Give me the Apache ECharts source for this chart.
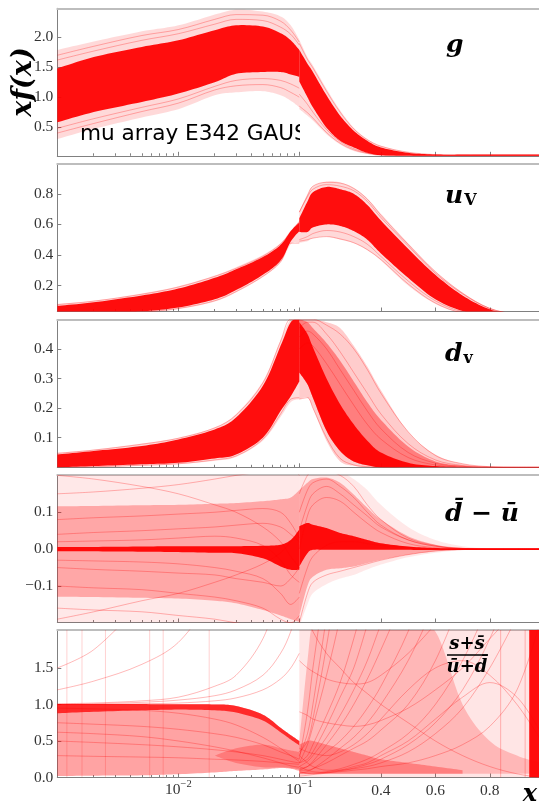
<!DOCTYPE html>
<html><head><meta charset="utf-8">
<script src="https://cdn.jsdelivr.net/npm/echarts@6/dist/echarts.min.js"></script>
<style>html,body{margin:0;padding:0;background:#fff}#c{width:539px;height:803px}</style>
</head><body><div id="c"></div>
<script>
// ---------------- data ----------------
const xsL = [0.001, 0.002, 0.005, 0.01, 0.02, 0.03, 0.05, 0.07, 0.085, 0.1];
const xsR = [0.1, 0.13, 0.15, 0.2, 0.25, 0.3, 0.35, 0.4, 0.5, 0.6, 0.7, 0.8, 0.9, 0.99];
const xMajorL = [0.01, 0.1];
const xMinorL = [0.002,0.003,0.004,0.005,0.006,0.007,0.008,0.009,0.02,0.03,0.04,0.05,0.06,0.07,0.08,0.09];
const xMajorR = [0.4, 0.6, 0.8];
const yMin = [0.02, 0.03, 0.0, -0.199, 0.0];
const yMax = [2.485, 0.995, 0.498, 0.201, 2.02];
const yTicks0 = [0.5, 1.0, 1.5, 2.0];
const yTicks1 = [0.2, 0.4, 0.6, 0.8];
const yTicks2 = [0.1, 0.2, 0.3, 0.4];
const yTicks3 = [-0.1, 0.0, 0.1];
const yTicks4 = [0.0, 0.5, 1.0, 1.5];

// g
const gOutHiL = [1.79, 1.93, 2.10, 2.20, 2.38, 2.46, 2.43, 2.35, 2.20, 1.96];
const gCorHiL = [1.48, 1.67, 1.84, 1.95, 2.12, 2.20, 2.18, 2.07, 1.95, 1.79];
const gCorLoL = [0.58, 0.75, 0.92, 1.06, 1.25, 1.39, 1.42, 1.42, 1.38, 1.34];
const gOutLoL = [0.30, 0.47, 0.66, 0.80, 1.03, 1.08, 1.10, 1.03, 0.94, 0.83];
const gOutHiR = [1.96, 1.67, 1.53, 1.14, 0.78, 0.49, 0.30, 0.19, 0.08, 0.045, 0.04, 0.04, 0.04, 0.04];
const gCorHiR = [1.79, 1.56, 1.42, 1.03, 0.69, 0.44, 0.27, 0.16, 0.07, 0.042, 0.04, 0.04, 0.04, 0.04];
const gCorLoR = [1.26, 1.00, 0.83, 0.49, 0.27, 0.16, 0.07, 0.03, 0.02, 0.01, 0.01, 0.01, 0.01, 0.01];
const gOutLoR = [0.80, 0.69, 0.61, 0.38, 0.21, 0.10, 0.05, 0.02, 0.01, 0.01, 0.01, 0.01, 0.01, 0.01];
const gLine1L = [1.70, 1.85, 2.03, 2.13, 2.30, 2.38, 2.37, 2.27, 2.12, 1.92];
const gLine2L = [1.62, 1.77, 1.95, 2.06, 2.22, 2.30, 2.28, 2.17, 2.05, 1.87];
const gLine3L = [0.40, 0.56, 0.76, 0.90, 1.12, 1.19, 1.21, 1.16, 1.08, 1.00];
const gLine4L = [0.48, 0.64, 0.83, 0.97, 1.18, 1.28, 1.31, 1.28, 1.22, 1.15];
const gLine1R = [1.90, 1.63, 1.49, 1.10, 0.75, 0.47, 0.29, 0.18, 0.08, 0.04, 0.03, 0.03, 0.03, 0.03];
const gLine2R = [0.85, 0.74, 0.65, 0.41, 0.23, 0.12, 0.06, 0.03, 0.02, 0.02, 0.02, 0.02, 0.02, 0.02];
const gLine3R = [1.05, 0.88, 0.75, 0.46, 0.26, 0.14, 0.07, 0.04, 0.02, 0.02, 0.02, 0.02, 0.02, 0.02];

// u_V
const uOutHiL = [0.080, 0.100, 0.148, 0.195, 0.265, 0.320, 0.400, 0.478, 0.560, 0.620];
const uCorHiL = [0.067, 0.090, 0.135, 0.180, 0.250, 0.306, 0.386, 0.466, 0.556, 0.613];
const uCorLoL = [0.000, 0.010, 0.030, 0.056, 0.110, 0.170, 0.270, 0.363, 0.488, 0.556];
const uOutLoL = [0.000, 0.005, 0.022, 0.045, 0.095, 0.155, 0.255, 0.350, 0.470, 0.480];
const uOutHiR = [0.68, 0.795, 0.85, 0.88, 0.875, 0.84, 0.77, 0.67, 0.477, 0.295, 0.154, 0.053, 0.012, 0.0];
const uCorHiR = [0.64, 0.75, 0.81, 0.845, 0.83, 0.80, 0.727, 0.625, 0.44, 0.27, 0.135, 0.044, 0.01, 0.0];
const uCorLoR = [0.55, 0.55, 0.58, 0.60, 0.59, 0.556, 0.50, 0.41, 0.25, 0.11, 0.033, 0.0, 0.0, 0.0];
const uOutLoR = [0.48, 0.49, 0.51, 0.52, 0.50, 0.477, 0.43, 0.363, 0.20, 0.08, 0.017, 0.0, 0.0, 0.0];
const uLine1L = [0.075, 0.098, 0.143, 0.19, 0.26, 0.312, 0.392, 0.472, 0.55, 0.62];
const uLine2L = [0.0, 0.008, 0.026, 0.05, 0.10, 0.16, 0.26, 0.355, 0.477, 0.477];
const uLine1R = [0.68, 0.79, 0.85, 0.875, 0.87, 0.835, 0.765, 0.66, 0.47, 0.29, 0.15, 0.05, 0.012, 0.0];
const uLine2R = [0.49, 0.50, 0.51, 0.52, 0.505, 0.48, 0.435, 0.37, 0.21, 0.085, 0.02, 0.003, 0.0, 0.0];
const uLine3R = [0.50, 0.52, 0.54, 0.56, 0.55, 0.52, 0.47, 0.39, 0.23, 0.10, 0.028, 0.005, 0.0, 0.0];
const uLine4R = [0.68, 0.78, 0.83, 0.86, 0.85, 0.82, 0.75, 0.645, 0.46, 0.28, 0.145, 0.05, 0.01, 0.0];

// d_v
const dOutHiL = [0.049, 0.060, 0.080, 0.100, 0.135, 0.180, 0.290, 0.430, 0.500, 0.500];
const dCorHiL = [0.043, 0.055, 0.072, 0.094, 0.128, 0.168, 0.275, 0.410, 0.490, 0.500];
const dCorLoL = [0.000, 0.004, 0.010, 0.015, 0.030, 0.043, 0.100, 0.190, 0.240, 0.290];
const dOutLoL = [0.000, 0.000, 0.005, 0.010, 0.022, 0.035, 0.090, 0.170, 0.220, 0.230];
const dOutHiR = [0.50, 0.50, 0.50, 0.49, 0.47, 0.41, 0.34, 0.26, 0.12, 0.043, 0.012, 0.002, 0.0, 0.0];
const dMidHiR = [0.50, 0.49, 0.47, 0.42, 0.36, 0.29, 0.22, 0.16, 0.07, 0.02, 0.005, 0.0, 0.0, 0.0];
const dCorHiR = [0.49, 0.45, 0.405, 0.30, 0.213, 0.145, 0.09, 0.05, 0.015, 0.004, 0.001, 0.0, 0.0, 0.0];
const dCorLoR = [0.32, 0.28, 0.235, 0.123, 0.055, 0.02, 0.007, 0.0, 0.0, 0.0, 0.0, 0.0, 0.0, 0.0];
const dOutLoR = [0.23, 0.235, 0.20, 0.089, 0.02, 0.005, 0.0, 0.0, 0.0, 0.0, 0.0, 0.0, 0.0, 0.0];
const dLine1L = [0.047, 0.058, 0.078, 0.098, 0.133, 0.176, 0.285, 0.425, 0.50, 0.50];
const dLine2L = [0.0, 0.002, 0.007, 0.012, 0.025, 0.038, 0.095, 0.18, 0.23, 0.235];
const dLine1R = [0.50, 0.50, 0.50, 0.48, 0.45, 0.40, 0.33, 0.25, 0.12, 0.04, 0.012, 0.002, 0.0, 0.0];
const dLine2R = [0.47, 0.49, 0.49, 0.45, 0.39, 0.32, 0.25, 0.18, 0.08, 0.025, 0.006, 0.001, 0.0, 0.0];
const dLine3R = [0.44, 0.46, 0.45, 0.40, 0.33, 0.26, 0.19, 0.13, 0.05, 0.014, 0.003, 0.0, 0.0, 0.0];
const dLine4R = [0.40, 0.42, 0.41, 0.35, 0.28, 0.21, 0.145, 0.095, 0.033, 0.008, 0.001, 0.0, 0.0, 0.0];
const dLine5R = [0.23, 0.235, 0.20, 0.10, 0.03, 0.008, 0.002, 0.0, 0.0, 0.0, 0.0, 0.0, 0.0, 0.0];

// dbar - ubar
const duOutHiL = [0.21, 0.21, 0.21, 0.21, 0.21, 0.21, 0.21, 0.21, 0.21, 0.21];
const duMidHiL = [0.116, 0.117, 0.119, 0.12, 0.123, 0.125, 0.13, 0.135, 0.14, 0.16];
const duCorHiL = [0.006, 0.006, 0.007, 0.008, 0.008, 0.008, 0.009, 0.012, 0.025, 0.053];
const duCorLoL = [-0.006, -0.006, -0.007, -0.008, -0.010, -0.011, -0.025, -0.047, -0.056, -0.056];
const duMidLoL = [-0.129, -0.13, -0.132, -0.134, -0.14, -0.147, -0.165, -0.18, -0.19, -0.197];
const duOutLoL = [-0.21, -0.21, -0.21, -0.21, -0.21, -0.21, -0.21, -0.21, -0.21, -0.21];
const duOutHiR = [0.21, 0.21, 0.21, 0.21, 0.21, 0.19, 0.16, 0.12, 0.06, 0.025, 0.008, 0.002, 0.001, 0.001];
const duMidHiR = [0.16, 0.18, 0.19, 0.194, 0.18, 0.148, 0.112, 0.08, 0.035, 0.012, 0.003, 0.001, 0.001, 0.001];
const duCorHiR = [0.062, 0.071, 0.066, 0.057, 0.044, 0.035, 0.025, 0.016, 0.007, 0.003, 0.0025, 0.0025, 0.0025, 0.0025];
const duCorLoR = [-0.047, -0.011, -0.002, -0.002, -0.002, -0.002, -0.002, -0.002, -0.002, -0.0025, -0.0025, -0.0025, -0.0025, -0.0025];
const duMidLoR = [-0.18, -0.10, -0.075, -0.056, -0.052, -0.047, -0.038, -0.029, -0.015, -0.006, -0.002, -0.001, -0.001, -0.001];
const duOutLoR = [-0.21, -0.15, -0.12, -0.095, -0.08, -0.07, -0.055, -0.042, -0.022, -0.01, -0.003, -0.002, -0.001, -0.001];
const duLine1L = [0.15, 0.155, 0.165, 0.175, 0.19, 0.20, 0.21, 0.22, 0.22, 0.20];
const duLine2L = [0.08, 0.085, 0.09, 0.095, 0.10, 0.105, 0.11, 0.10, 0.07, 0.03];
const duLine3L = [0.04, 0.045, 0.05, 0.055, 0.06, 0.065, 0.07, 0.06, 0.04, 0.02];
const duLine4L = [-0.05, -0.055, -0.06, -0.065, -0.07, -0.08, -0.09, -0.10, -0.08, -0.05];
const duLine5L = [-0.10, -0.105, -0.11, -0.12, -0.13, -0.14, -0.16, -0.19, -0.20, -0.18];
const duLine6L = [-0.16, -0.165, -0.17, -0.18, -0.19, -0.20, -0.21, -0.22, -0.22, -0.20];
const duLine7L = [0.20, 0.19, 0.17, 0.15, 0.12, 0.10, 0.06, 0.02, -0.02, -0.05];
const duLine8L = [-0.19, -0.17, -0.14, -0.12, -0.09, -0.07, -0.04, -0.01, 0.02, 0.05];
const duLine9L = [0.02, 0.022, 0.025, 0.03, 0.035, 0.03, 0.01, -0.03, -0.07, -0.09];
const duLine10L = [-0.03, -0.032, -0.035, -0.04, -0.05, -0.06, -0.08, -0.12, -0.15, -0.13];
const duLine1R = [0.15, 0.20, 0.21, 0.21, 0.20, 0.17, 0.12, 0.08, 0.03, 0.01, 0.0, 0.0, 0.0, 0.0];
const duLine2R = [0.05, 0.12, 0.15, 0.17, 0.15, 0.12, 0.09, 0.06, 0.025, 0.008, 0.002, 0.0, 0.0, 0.0];
const duLine3R = [-0.12, -0.05, -0.02, 0.01, 0.02, 0.02, 0.015, 0.01, 0.005, 0.001, 0.0, 0.0, 0.0, 0.0];
const duLine4R = [-0.20, -0.12, -0.09, -0.07, -0.06, -0.05, -0.04, -0.03, -0.015, -0.005, -0.001, 0.0, 0.0, 0.0];
const duLine5R = [0.0, 0.09, 0.12, 0.14, 0.13, 0.10, 0.07, 0.045, 0.015, 0.004, 0.001, 0.0, 0.0, 0.0];
const duLine6R = [0.10, 0.16, 0.18, 0.19, 0.17, 0.14, 0.10, 0.065, 0.025, 0.008, 0.002, 0.0, 0.0, 0.0];

// (s+sbar)/(ubar+dbar)
const rFanHiL = [1.005, 1.005, 1.005, 1.003, 1.0, 0.98, 0.86, 0.68, 0.58, 0.50];
const rFanLoL = [0.02, 0.025, 0.03, 0.045, 0.07, 0.09, 0.11, 0.13, 0.12, 0.09];
const rTopLoL = [0.88, 0.90, 0.92, 0.93, 0.92, 0.89, 0.78, 0.62, 0.52, 0.44];
const rFocHiL = [null, null, null, null, 0.30, 0.40, 0.45, 0.40, 0.37, 0.35];
const rFocLoL = [null, null, null, null, 0.30, 0.20, 0.14, 0.14, 0.13, 0.11];
const rAllHiR = [2.05, 2.05, 2.05, 2.05, 2.05, 2.05, 2.05, 2.05, 2.05, 2.05, 2.05, 2.05, 2.05, 2.05];
const rAllLoR = [0, 0, 0, 0, 0, 0, 0, 0, 0, 0, 0, 0, 0, 0];
const rRiseHiR = [0.5, 1.6, 2.1, 2.1, 2.1, 2.1, 2.1, 2.1, 2.1, 2.0, 1.0, 0.5, 0.3, 0.2];
const rRiseLoR = [0.05, 0.05, 0.05, 0.05, 0.05, 0.05, 0.05, 0.05, 0.05, 0.05, 0.05, 0.05, 0.05, 0.05];
const rBotHiR = [0.45, 0.5, 0.5, 0.45, 0.4, 0.35, 0.3, 0.25, 0.2, 0.15, 0.1];
const rBotLoR = [0.06, 0.05, 0.05, 0.05, 0.05, 0.05, 0.05, 0.05, 0.05, 0.05, 0.05];
const rLine1L = [1.5, 1.75, 2.4];
const rLine2L = [1.2, 1.32, 1.55, 1.85, 2.5];
const rLine3L = [1.01, 1.02, 1.05, 1.10, 1.25, 1.40, 1.90, 2.60];
const rLine4L = [1.0, 1.01, 1.03, 1.06, 1.12, 1.20, 1.40, 1.70, 2.00, 2.40];
const rLine5L = [0.95, 0.94, 0.92, 0.88, 0.80, 0.72, 0.55, 0.40, 0.30, 0.22];
const rLine6L = [0.75, 0.73, 0.70, 0.66, 0.60, 0.55, 0.45, 0.35, 0.30, 0.25];
const rLine7L = [0.50, 0.48, 0.45, 0.42, 0.38, 0.35, 0.30, 0.25, 0.22, 0.20];
const rLine8L = [0.30, 0.29, 0.28, 0.27, 0.25, 0.24, 0.22, 0.20, 0.19, 0.18];
const rLine9L = [0.62, 0.60, 0.56, 0.50, 0.42, 0.36, 0.27, 0.20, 0.16, 0.14];
const rLine10L = [1.0, 1.0, 1.01, 1.02, 1.05, 1.09, 1.20, 1.35, 1.50, 1.70];
const rLine1R = [0.25, 0.9, 1.5, 2.8];
const rLine2R = [0.2, 0.45, 0.7, 1.4, 2.2, 3.2];
const rLine3R = [0.2, 0.3, 0.45, 0.85, 1.3, 1.9, 2.6];
const rLine4R = [0.15, 0.22, 0.3, 0.55, 0.85, 1.2, 1.6, 2.1, 3.0];
const rLine5R = [0.12, 0.15, 0.2, 0.35, 0.5, 0.7, 0.95, 1.25, 2.0, 3.0];
const rLine6R = [0.1, 0.1, 0.12, 0.2, 0.3, 0.4, 0.5, 0.65, 1.0, 1.6, 2.5];
const rLine7R = [0.08, 0.06, 0.06, 0.08, 0.12, 0.18, 0.25, 0.35, 0.6, 1.0, 1.6, 2.4];
const rLine8R = [0.3, 0.2, 0.15, 0.1, 0.1, 0.12, 0.15, 0.2, 0.35, 0.6, 0.95, 1.5, 2.2];
const rLine9R = [2.6, 2.2, 2.0, 1.7, 1.5, 1.3, 1.15, 1.0, 0.75, 0.5, 0.3, 0.15, 0.05, 0.0];
const rLine10R = [0.4, 0.35, 0.33, 0.3, 0.35, 0.45, 0.6, 0.8, 1.2, 1.5, 1.6, 1.4, 1.0, 0.5];
const rLine11R = [0.05, 0.05, 0.05, 0.07, 0.1, 0.15, 0.2, 0.3, 0.5, 0.8, 1.1, 1.3, 1.1, 0.6];
const rLine12R = [0.15, 0.1, 0.08, 0.07, 0.08, 0.1, 0.12, 0.15, 0.2, 0.3, 0.45, 0.7, 1.2, 2.2];
const rLine13R = [0.3, 0.6, 1.0, 2.2];
const rLine14R = [0.35, 0.5, 0.8, 1.8, 3.0];
const rLine15R = [0.2, 0.25, 0.35, 0.7, 1.1, 1.5, 2.1];
const rLine16R = [0.1, 0.15, 0.22, 0.45, 0.7, 1.0, 1.35, 1.75, 2.6];
const rLine17R = [0.06, 0.08, 0.12, 0.25, 0.4, 0.55, 0.75, 1.0, 1.6, 2.4];
const rLine18R = [1.6, 1.5, 1.45, 1.35, 1.3, 1.28, 1.3, 1.4, 1.7, 2.1];
const rLine19R = [0.9, 0.85, 0.8, 0.75, 0.72, 0.7, 0.72, 0.78, 0.95, 1.2, 1.5, 1.9, 2.3];
const rLine20R = [0.02, 0.03, 0.04, 0.06, 0.09, 0.13, 0.18, 0.25, 0.45, 0.75, 1.2, 1.9, 2.8];
const rPolesL = [0.0012, 0.0016, 0.0025, 0.0058, 0.0075, 0.018];
const rPolesR = [0.84, 0.93];
const rEdgeBandR = [0.945, 0.99];

const noteText = 'mu array E342 GAUSS';
const notePos = [0.00154, 0.38];

// ---------------- layout / style ----------------
const SERIF = '"Liberation Serif","DejaVu Serif",serif';
const MATHF = '"DejaVu Serif",serif';
const AXC = '#808080', LABC = '#333333';
const TOPS = [8.3, 164, 319.8, 475, 630];
const H = 147.5, LEFT = 57.3, MID = 299.3, REND = 539.3;
const X_MIN = 0.001, X_SPLIT = 0.1, X_MAXR = 0.982;
const yTicksAll = [yTicks0, yTicks1, yTicks2, yTicks3, yTicks4];
const OUT = 'rgba(255,0,0,0.15)', MIDC = 'rgba(255,0,0,0.28)', CORE = 'rgba(255,0,0,0.94)', LINE = 'rgba(255,0,0,0.28)';

const grids = [], xAxes = [], yAxes = [], series = [], AX = [];
const fmtY = v => (v < 0 ? '\u2212' : '') + Math.abs(v).toFixed(1);

for (let p = 0; p < 5; p++) {
  const gl = grids.length;
  grids.push({left: LEFT, top: TOPS[p], width: MID - LEFT, height: H, containLabel: false, outerBoundsMode: 'none'});
  const gr = grids.length;
  grids.push({left: MID, top: TOPS[p], width: REND - MID, height: H, containLabel: false, outerBoundsMode: 'none'});
  const last = p === 4;
  const rec = {};
  rec.xl = xAxes.length;
  xAxes.push({type: 'log', logBase: 10, gridIndex: gl, min: X_MIN, max: X_SPLIT, position: 'bottom',
    axisLine: {show: true, onZero: false, lineStyle: {color: AXC, width: 1}}, splitLine: {show: false},
    axisTick: {show: true, inside: true, length: 4, customValues: xMajorL, lineStyle: {color: AXC}},
    axisLabel: {show: last, customValues: xMajorL, margin: 1, showMinLabel: true, showMaxLabel: true, hideOverlap: false,
      formatter: v => '{b|10}{s|\u2212' + Math.round(-Math.log10(v)) + '}',
      rich: {b: {fontFamily: SERIF, fontSize: 15.5, color: LABC}, s: {fontFamily: SERIF, fontSize: 10.5, color: LABC, padding: [0, 0, 11, 0]}}}});
  xAxes.push({type: 'log', logBase: 10, gridIndex: gl, min: X_MIN, max: X_SPLIT, position: 'bottom',
    axisLine: {show: false, onZero: false}, splitLine: {show: false}, axisLabel: {show: false},
    axisTick: {show: true, inside: true, length: 2.5, customValues: xMinorL, lineStyle: {color: AXC}}});
  xAxes.push({type: 'value', gridIndex: gl, min: 0, max: 1, position: 'top',
    axisLine: {show: true, onZero: false, lineStyle: {color: '#bdbdbd', width: 2}}, axisTick: {show: false}, axisLabel: {show: false}, splitLine: {show: false}});
  rec.xr = xAxes.length;
  xAxes.push({type: 'value', gridIndex: gr, min: X_SPLIT, max: X_MAXR, position: 'bottom',
    axisLine: {show: true, onZero: false, lineStyle: {color: AXC, width: 1}}, splitLine: {show: false},
    axisTick: {show: true, inside: true, length: 4, customValues: xMajorR, lineStyle: {color: AXC}},
    axisLabel: {show: last, customValues: xMajorR, margin: 5, formatter: v => v.toFixed(1), fontFamily: SERIF, fontSize: 15.5, color: LABC}});
  xAxes.push({type: 'value', gridIndex: gr, min: 0, max: 1, position: 'top',
    axisLine: {show: true, onZero: false, lineStyle: {color: '#bdbdbd', width: 2}}, axisTick: {show: false}, axisLabel: {show: false}, splitLine: {show: false}});
  rec.yl = yAxes.length;
  yAxes.push({type: 'value', gridIndex: gl, min: yMin[p], max: yMax[p],
    axisLine: {show: true, onZero: false, lineStyle: {color: AXC, width: 1}}, splitLine: {show: false},
    axisTick: {show: true, inside: true, length: 4, customValues: yTicksAll[p], lineStyle: {color: AXC}},
    axisLabel: {customValues: yTicksAll[p], formatter: fmtY, fontFamily: SERIF, fontSize: 15.5, color: LABC, margin: 4}});
  rec.yr = yAxes.length;
  yAxes.push({type: 'value', gridIndex: gr, min: yMin[p], max: yMax[p], show: false});
  AX.push(rec);
}

function axesOf(p, side) { return side === 'L' ? [AX[p].xl, AX[p].yl] : [AX[p].xr, AX[p].yr]; }
// Catmull-Rom smoothing of an edge in pixel space (drawing only)
function crEdge(P, n) {
  if (P.length < 3 || n <= 1) return P.slice();
  const out = [];
  for (let i = 0; i < P.length - 1; i++) {
    const p0 = P[i - 1] || P[i], p1 = P[i], p2 = P[i + 1], p3 = P[i + 2] || P[i + 1];
    for (let k = 0; k < n; k++) {
      const t = k / n, t2 = t * t, t3 = t2 * t;
      const f = j => 0.5 * (2 * p1[j] + (-p0[j] + p2[j]) * t + (2 * p0[j] - 5 * p1[j] + 4 * p2[j] - p3[j]) * t2 + (-p0[j] + 3 * p1[j] - 3 * p2[j] + p3[j]) * t3);
      out.push([f(0), f(1)]);
    }
  }
  out.push(P[P.length - 1]);
  return out;
}
function band(p, side, xs, lo, hi, color, z, sharp) {
  const [xi, yi] = axesOf(p, side);
  series.push({type: 'custom', xAxisIndex: xi, yAxisIndex: yi, clip: true, silent: true, z: z || 1,
    data: [[xs[0], yMax[p]]],
    renderItem: (params, api) => {
      const up = [], dn = [];
      for (let i = 0; i < xs.length; i++) if (hi[i] != null && lo[i] != null) { up.push(api.coord([xs[i], hi[i]])); dn.push(api.coord([xs[i], lo[i]])); }
      const n = sharp ? 1 : 10;
      const pts = crEdge(up, n).concat(crEdge(dn, n).reverse());
      return {type: 'polygon', shape: {points: pts}, style: {fill: color}};
    }});
}
function lines(p, side, xs, arrs, color, width) {
  const [xi, yi] = axesOf(p, side);
  arrs.forEach(a => {
    const d = [];
    a.forEach((v, i) => { if (v != null) d.push([xs[i], v]); });
    series.push({type: 'line', xAxisIndex: xi, yAxisIndex: yi, data: d, smooth: 0.35, symbol: 'none', silent: true, z: 3,
      lineStyle: {color: color, width: width || 1}});
  });
}
function vlines(p, side, xsv, color, width) {
  const [xi, yi] = axesOf(p, side);
  series.push({type: 'custom', xAxisIndex: xi, yAxisIndex: yi, clip: true, silent: true, z: 3,
    data: xsv.map(x => [x, yMin[p]]),
    renderItem: (params, api) => {
      const a = api.coord([api.value(0), yMin[p]]), b = api.coord([api.value(0), yMax[p]]);
      return {type: 'line', shape: {x1: a[0], y1: a[1], x2: b[0], y2: b[1]}, style: {stroke: color, lineWidth: width}};
    }});
}

// panel 0: g
band(0, 'L', xsL, gOutLoL, gOutHiL, OUT, 1);
band(0, 'L', xsL, gCorLoL, gCorHiL, CORE, 2);
band(0, 'R', xsR, gOutLoR, gOutHiR, OUT, 1);
band(0, 'R', xsR, gCorLoR, gCorHiR, CORE, 2);
lines(0, 'L', xsL, [gLine1L, gLine2L, gLine3L, gLine4L], LINE);
lines(0, 'R', xsR, [gLine1R, gLine2R, gLine3R], LINE);
// panel 1: u_V
band(1, 'L', xsL, uOutLoL, uOutHiL, OUT, 1);
band(1, 'L', xsL, uCorLoL, uCorHiL, CORE, 2);
band(1, 'R', xsR, uOutLoR, uOutHiR, OUT, 1);
band(1, 'R', xsR, uCorLoR, uCorHiR, CORE, 2);
lines(1, 'L', xsL, [uLine1L, uLine2L], LINE);
lines(1, 'R', xsR, [uLine1R, uLine2R, uLine3R, uLine4R], LINE);
// panel 2: d_v
band(2, 'L', xsL, dOutLoL, dOutHiL, OUT, 1);
band(2, 'L', xsL, dCorLoL, dCorHiL, CORE, 2);
band(2, 'R', xsR, dOutLoR, dOutHiR, 'rgba(255,0,0,0.2)', 1);
band(2, 'R', xsR, dCorLoR, dMidHiR, 'rgba(255,0,0,0.38)', 1);
band(2, 'R', xsR, dCorLoR, dCorHiR, CORE, 2);
lines(2, 'L', xsL, [dLine1L, dLine2L], LINE);
lines(2, 'R', xsR, [dLine1R, dLine2R, dLine3R, dLine4R, dLine5R], LINE);
// panel 3: dbar - ubar
band(3, 'L', xsL, duOutLoL, duOutHiL, 'rgba(255,0,0,0.09)', 1);
band(3, 'L', xsL, duMidLoL, duMidHiL, MIDC, 1);
band(3, 'L', xsL, duCorLoL, duCorHiL, CORE, 2);
band(3, 'R', xsR, duOutLoR, duOutHiR, 'rgba(255,0,0,0.09)', 1);
band(3, 'R', xsR, duMidLoR, duMidHiR, MIDC, 1);
band(3, 'R', xsR, duCorLoR, duCorHiR, CORE, 2);
lines(3, 'L', xsL, [duLine1L, duLine2L, duLine3L, duLine4L, duLine5L, duLine6L, duLine7L, duLine8L, duLine9L, duLine10L], LINE);
lines(3, 'R', xsR, [duLine1R, duLine2R, duLine3R, duLine4R, duLine5R, duLine6R], LINE);
// panel 4: strange ratio
band(4, 'L', xsL, rFanLoL, rFanHiL, 'rgba(255,0,0,0.36)', 1);
band(4, 'L', xsL, rTopLoL, rFanHiL, 'rgba(255,0,0,0.75)', 2);
band(4, 'L', xsL, rFocLoL, rFocHiL, 'rgba(255,0,0,0.25)', 2);
band(4, 'R', xsR, rAllLoR, rAllHiR, 'rgba(255,0,0,0.1)', 1, true);
band(4, 'R', xsR, rRiseLoR, rRiseHiR, 'rgba(255,0,0,0.2)', 1);
band(4, 'R', xsR, rBotLoR, rBotHiR, 'rgba(255,0,0,0.3)', 2);
lines(4, 'L', xsL, [rLine1L, rLine2L, rLine3L, rLine4L, rLine5L, rLine6L, rLine7L, rLine8L, rLine9L, rLine10L], LINE);
lines(4, 'R', xsR, [rLine1R, rLine2R, rLine3R, rLine4R, rLine5R, rLine6R, rLine7R, rLine8R, rLine9R, rLine10R,
  rLine11R, rLine12R, rLine13R, rLine14R, rLine15R, rLine16R, rLine17R, rLine18R, rLine19R, rLine20R], LINE);
vlines(4, 'L', rPolesL, 'rgba(255,0,0,0.18)', 1);
vlines(4, 'R', rPolesR, 'rgba(255,0,0,0.25)', 1);
(function () {
  const [xi, yi] = axesOf(4, 'R');
  series.push({type: 'custom', xAxisIndex: xi, yAxisIndex: yi, clip: true, silent: true, z: 4,
    data: [[rEdgeBandR[0], yMin[4]]],
    renderItem: (params, api) => {
      const a = api.coord([rEdgeBandR[0], yMax[4]]), b = api.coord([rEdgeBandR[1], yMin[4]]);
      return {type: 'rect', shape: {x: a[0], y: a[1], width: b[0] - a[0], height: b[1] - a[1]}, style: {fill: 'rgba(255,0,0,0.95)'}};
    }});
})();
// note text, clipped by the left (log) panel
series.push({type: 'custom', xAxisIndex: AX[0].xl, yAxisIndex: AX[0].yl, clip: true, silent: true, z: 10,
  data: [notePos],
  renderItem: (params, api) => {
    const c = api.coord([api.value(0), api.value(1)]);
    return {type: 'text', x: c[0], y: c[1], style: {text: noteText, font: '21.6px "DejaVu Sans"', fill: '#000', align: 'left', verticalAlign: 'middle'}};
  }});

const M = 'italic bold 25px ' + MATHF;
const graphic = [
  {type: 'text', x: 24, y: 82, rotation: Math.PI / 2, z: 20,
    style: {text: 'xf(x)', font: 'italic bold 27px ' + MATHF, fill: '#000', align: 'center', verticalAlign: 'middle'}},
  {type: 'text', x: 446, y: 45, z: 20, style: {text: 'g', font: M, fill: '#000', align: 'left', verticalAlign: 'middle'}},
  {type: 'text', x: 445, y: 196, z: 20, style: {text: '{m|u}{s|V}', align: 'left', verticalAlign: 'middle',
    rich: {m: {font: M, fill: '#000'}, s: {font: 'bold 16px ' + MATHF, fill: '#000', padding: [10, 0, 0, 1]}}}},
  {type: 'text', x: 445, y: 354, z: 20, style: {text: '{m|d}{s|v}', align: 'left', verticalAlign: 'middle',
    rich: {m: {font: M, fill: '#000'}, s: {font: 'bold 16px ' + MATHF, fill: '#000', padding: [10, 0, 0, 1]}}}},
  {type: 'text', x: 445, y: 514, z: 20, style: {text: 'd\u0304 \u2212 u\u0304', font: M, fill: '#000', align: 'left', verticalAlign: 'middle'}},
  {type: 'text', x: 467, y: 644, z: 20, style: {text: 's+s\u0304', font: 'italic bold 18px ' + MATHF, fill: '#000', align: 'center', verticalAlign: 'middle'}},
  {type: 'line', z: 20, shape: {x1: 447, y1: 655, x2: 488, y2: 655}, style: {stroke: '#000', lineWidth: 1.3}},
  {type: 'text', x: 467, y: 667, z: 20, style: {text: 'u\u0304+d\u0304', font: 'italic bold 18px ' + MATHF, fill: '#000', align: 'center', verticalAlign: 'middle'}},
  {type: 'text', x: 530, y: 795, z: 20, style: {text: 'x', font: 'italic bold 24px ' + MATHF, fill: '#000', align: 'center', verticalAlign: 'middle'}}
];

const chart = echarts.init(document.getElementById('c'), null, {renderer: 'canvas'});
chart.setOption({animation: false, backgroundColor: '#fff', grid: grids, xAxis: xAxes, yAxis: yAxes, series: series, graphic: graphic});
</script></body></html>
